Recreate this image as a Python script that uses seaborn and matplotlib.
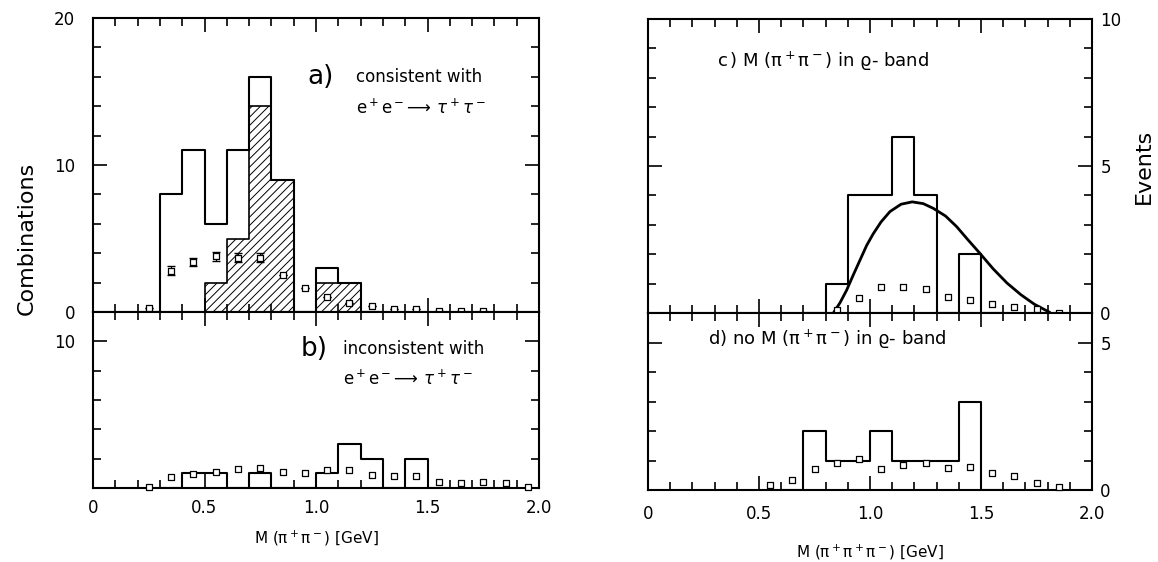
import numpy as np
import pandas as pd
import matplotlib
matplotlib.use("Agg")
import matplotlib.pyplot as plt
from matplotlib.ticker import MultipleLocator
import seaborn as sns

# ---- data ----
# a) consistent with e+e- -> tau+tau-
a_edges = [0.2, 0.3, 0.4, 0.5, 0.6, 0.7, 0.8, 0.9, 1.0, 1.1, 1.2, 1.3]
a_counts = [0, 8, 11, 6, 11, 16, 9, 0, 3, 2, 0]
a_hatch_edges = [0.4, 0.5, 0.6, 0.7, 0.8, 0.9, 1.0, 1.1, 1.2, 1.3]
a_hatch_counts = [0, 2, 5, 14, 9, 0, 2, 2, 0]
a_bg_x = [0.25, 0.35, 0.45, 0.55, 0.65, 0.75, 0.85, 0.95, 1.05, 1.15, 1.25, 1.35, 1.45, 1.55, 1.65, 1.75]
a_bg_y = [0.3, 2.8, 3.4, 3.8, 3.7, 3.7, 2.5, 1.6, 1.0, 0.6, 0.4, 0.2, 0.2, 0.1, 0.1, 0.05]
a_bg_err = [0, 0.3, 0.25, 0.3, 0.3, 0.3, 0, 0, 0, 0, 0, 0, 0, 0, 0, 0]

# b) inconsistent with e+e- -> tau+tau-
b_edges = [0.3, 0.4, 0.5, 0.6, 0.7, 0.8, 0.9, 1.0, 1.1, 1.2, 1.3, 1.4, 1.5, 1.6]
b_counts = [0, 1, 1, 0, 1, 0, 0, 1, 3, 2, 0, 2, 0]
b_bg_x = [0.25, 0.35, 0.45, 0.55, 0.65, 0.75, 0.85, 0.95, 1.05, 1.15, 1.25, 1.35, 1.45, 1.55, 1.65, 1.75, 1.85, 1.95]
b_bg_y = [0.05, 0.75, 0.95, 1.1, 1.3, 1.35, 1.1, 1.05, 1.2, 1.25, 0.9, 0.8, 0.85, 0.4, 0.35, 0.4, 0.35, 0.1]

# c) M(pi+pi-) in rho band
c_edges = [0.7, 0.8, 0.9, 1.0, 1.1, 1.2, 1.3, 1.4, 1.5, 1.6]
c_counts = [0, 1, 4, 4, 6, 4, 0, 2, 0]
c_bg_x = [0.85, 0.95, 1.05, 1.15, 1.25, 1.35, 1.45, 1.55, 1.65, 1.75, 1.85]
c_bg_y = [0.1, 0.5, 0.9, 0.9, 0.8, 0.55, 0.45, 0.3, 0.2, 0.12, 0.0]
c_curve_x = [0.835, 0.865, 0.895, 0.925, 0.955, 0.985, 1.015, 1.05, 1.09, 1.14, 1.19, 1.24, 1.285, 1.34, 1.39, 1.44, 1.495, 1.555, 1.617, 1.68, 1.74, 1.81]
c_curve_y = [0.0, 0.35, 0.78, 1.3, 1.8, 2.3, 2.7, 3.1, 3.45, 3.7, 3.78, 3.72, 3.56, 3.3, 2.94, 2.5, 2.03, 1.5, 1.02, 0.62, 0.3, 0.02]

# d) no M(pi+pi-) in rho band
d_edges = [0.6, 0.7, 0.8, 0.9, 1.0, 1.1, 1.2, 1.3, 1.4, 1.5, 1.6]
d_counts = [0, 2, 1, 1, 2, 1, 1, 1, 3, 0]
d_bg_x = [0.55, 0.65, 0.75, 0.85, 0.95, 1.05, 1.15, 1.25, 1.35, 1.45, 1.55, 1.65, 1.75, 1.85]
d_bg_y = [0.17, 0.34, 0.7, 0.93, 1.05, 0.7, 0.85, 0.9, 0.73, 0.77, 0.58, 0.47, 0.23, 0.1]

sns.set_style("ticks")
plt.rcParams['font.family'] = ['DejaVu Sans']
plt.rcParams['hatch.linewidth'] = 0.7
plt.rcParams['text.color'] = 'black'
plt.rcParams['axes.labelcolor'] = 'black'

W, H = 1158, 562
fig = plt.figure(figsize=(W / 100, H / 100), dpi=100)
ax_a = fig.add_axes([93 / W, 1 - 312 / H, 446 / W, 294 / H])
ax_b = fig.add_axes([93 / W, 1 - 488 / H, 446 / W, 176 / H])
ax_c = fig.add_axes([648 / W, 1 - 313 / H, 444 / W, 294 / H])
ax_d = fig.add_axes([648 / W, 1 - 490 / H, 444 / W, 177 / H])


def centers(edges):
    e = np.array(edges)
    return (e[:-1] + e[1:]) / 2


def hist(ax, edges, counts):
    sns.histplot(x=centers(edges), weights=counts, bins=edges, element="step",
                 fill=False, color="black", linewidth=1.5, ax=ax)


def squares(ax, x, y):
    sns.scatterplot(x=x, y=y, marker="s", s=24, facecolor="white",
                    edgecolor="black", linewidth=0.9, zorder=5, clip_on=False, ax=ax)


def style(ax, ymax, ymaj, ymin):
    ax.set_xlim(0, 2)
    ax.set_ylim(0, ymax)
    ax.xaxis.set_major_locator(MultipleLocator(0.5))
    ax.xaxis.set_minor_locator(MultipleLocator(0.1))
    ax.yaxis.set_major_locator(MultipleLocator(ymaj))
    ax.yaxis.set_minor_locator(MultipleLocator(ymin))
    ax.tick_params(which="both", direction="in", top=True, bottom=True, left=True, right=True,
                   width=1.2, colors="black", labelsize=12)
    ax.tick_params(which="major", length=10)
    ax.tick_params(which="minor", length=6)
    ax.tick_params(axis="x", pad=8)
    for s in ax.spines.values():
        s.set_linewidth(1.5)
        s.set_color("black")
    ax.set_xlabel("")
    ax.set_ylabel("")


# a)
hist(ax_a, a_edges, a_counts)
sns.histplot(x=centers(a_hatch_edges), weights=a_hatch_counts, bins=a_hatch_edges, element="step",
             fill=True, color="black", linewidth=1.2, ax=ax_a)
poly = ax_a.collections[-1]
poly.set_facecolor("none")
poly.set_edgecolor("black")
poly.set_hatch("////")
poly.set_alpha(1)
ax_a.errorbar(a_bg_x, a_bg_y, yerr=a_bg_err, fmt="none", ecolor="black", elinewidth=0.8, capsize=3, zorder=4)
squares(ax_a, a_bg_x, a_bg_y)
style(ax_a, 20, 10, 2)
ax_a.tick_params(axis="x", labelbottom=False)
ax_a.tick_params(axis="y", pad=13)
ax_a.text(0.96, 16, "a)", fontsize=19, va="center")
ax_a.text(1.18, 16, "consistent with", fontsize=12, va="center")
ax_a.text(1.18, 13.9, r"e$^+$e$^-$$\!\longrightarrow\,\tau^+\tau^-$", fontsize=12, va="center")
ax_a.set_ylabel("Combinations", fontsize=16)
ax_a.yaxis.set_label_coords(-0.125, 0.25)

# b)
hist(ax_b, b_edges, b_counts)
squares(ax_b, b_bg_x, b_bg_y)
style(ax_b, 12, 10, 2)
ax_b.set_yticks([0, 10])
ax_b.set_yticklabels(["", "10"])
ax_b.tick_params(axis="y", pad=13)
ax_b.set_xticks([0, 0.5, 1.0, 1.5, 2.0])
ax_b.set_xticklabels(["0", "0.5", "1.0", "1.5", "2.0"])
ax_b.text(0.93, 9.5, "b)", fontsize=19, va="center")
ax_b.text(1.12, 9.5, "inconsistent with", fontsize=12, va="center")
ax_b.text(1.12, 7.4, r"e$^+$e$^-$$\!\longrightarrow\,\tau^+\tau^-$", fontsize=12, va="center")
ax_b.set_xlabel(r"M (π$^+$π$^-$) [GeV]", fontsize=11, labelpad=8)

# c)
hist(ax_c, c_edges, c_counts)
sns.lineplot(x=c_curve_x, y=c_curve_y, color="black", linewidth=2, ax=ax_c)
squares(ax_c, c_bg_x, c_bg_y)
style(ax_c, 10, 5, 1)
ax_c.tick_params(axis="y", labelleft=False, labelright=True, pad=6)
ax_c.tick_params(axis="x", labelbottom=False)
ax_c.text(0.31, 8.55, r"c$\,$) M (π$^+$π$^-$) in ϱ- band", fontsize=13, va="center")
ax_c.yaxis.set_label_position("right")
ax_c.set_ylabel("Events", fontsize=16, rotation=90)
ax_c.yaxis.set_label_coords(1.095, 0.5)

# d)
hist(ax_d, d_edges, d_counts)
squares(ax_d, d_bg_x, d_bg_y)
style(ax_d, 6, 5, 1)
ax_d.tick_params(axis="y", labelleft=False, labelright=True, pad=6)
ax_d.set_xticks([0, 0.5, 1.0, 1.5, 2.0])
ax_d.set_xticklabels(["0", "0.5", "1.0", "1.5", "2.0"])
ax_d.tick_params(axis="x", pad=11)
ax_d.text(0.27, 5.1, r"d) no M (π$^+$π$^-$) in ϱ- band", fontsize=13, va="center")
ax_d.set_xlabel(r"M (π$^+$π$^+$π$^-$) [GeV]", fontsize=11, labelpad=14)

fig.savefig("out.png", dpi=100)
